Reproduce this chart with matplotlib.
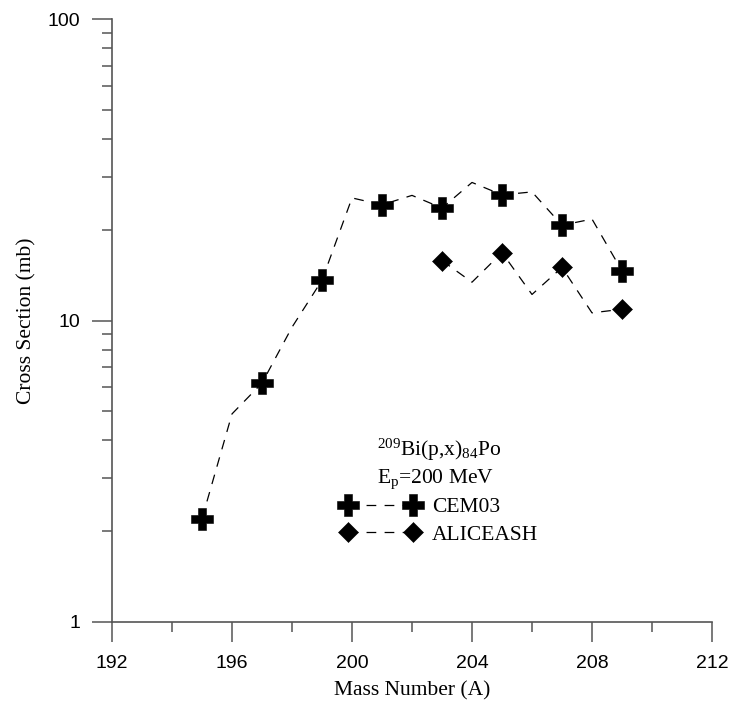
import matplotlib
matplotlib.use("Agg")
import matplotlib.pyplot as plt
from matplotlib.lines import Line2D
from matplotlib.ticker import FixedLocator, LogLocator, NullFormatter, FuncFormatter

plt.rcParams["mathtext.fontset"] = "custom"
plt.rcParams["mathtext.rm"] = "Liberation Serif"
plt.rcParams["mathtext.it"] = "Liberation Serif"
plt.rcParams["lines.scale_dashes"] = False

# 209Bi(p,x)84Po cross sections at Ep = 200 MeV
cem_A = [195, 196, 197, 198, 199, 200, 201, 202, 203, 204, 205, 206, 207, 208, 209]
cem_xs = [2.2, 4.9, 6.2, 9.5, 13.6, 25.5, 24.2, 26.0, 23.6, 28.7, 26.1, 26.7, 20.7, 21.7, 14.6]

alice_A = [203, 204, 205, 206, 207, 208, 209]
alice_xs = [15.8, 13.4, 16.8, 12.2, 15.0, 10.6, 10.9]

x_ticks = [192, 196, 200, 204, 208, 212]
y_ticks = [1, 10, 100]

serif = "Liberation Serif"
sans = "Liberation Sans"
dash = (0, (7, 6))
plus_style = dict(marker="P", ms=15.5, mew=0.4)
diamond_style = dict(marker="D", ms=10.5, mew=0.4)

fig = plt.figure(figsize=(7.31, 7.04), dpi=100)
ax = fig.add_axes([112 / 731, 1 - 622 / 704, 600 / 731, 603 / 704])

# markers only on odd mass numbers, dashed line through every point
ax.plot(cem_A, cem_xs, color="black", lw=0.9, linestyle=dash,
        markevery=slice(0, None, 2), **plus_style)
ax.plot(alice_A, alice_xs, color="black", lw=0.9, linestyle=dash,
        markevery=slice(0, None, 2), **diamond_style)

ax.set_yscale("log")
ax.set_xlim(192, 212)
ax.set_ylim(1, 100)

ax.xaxis.set_major_locator(FixedLocator(x_ticks))
ax.xaxis.set_minor_locator(FixedLocator(range(194, 212, 4)))
ax.yaxis.set_major_locator(FixedLocator(y_ticks))
ax.yaxis.set_minor_locator(LogLocator(base=10, subs=range(2, 10)))
ax.yaxis.set_minor_formatter(NullFormatter())
ax.yaxis.set_major_formatter(FuncFormatter(lambda v, p: f"{v:g}"))

for side in ["top", "right"]:
    ax.spines[side].set_visible(False)
for side in ["left", "bottom"]:
    ax.spines[side].set_color("#555555")
    ax.spines[side].set_linewidth(1.2)

ax.tick_params(which="major", direction="out", length=14.4, width=1.1, color="#555555")
ax.tick_params(which="minor", direction="out", length=7.2, width=1.1, color="#555555")
ax.tick_params(axis="y", which="major", pad=8.5)
ax.tick_params(axis="x", which="major", pad=9)
for lab in ax.get_xticklabels() + ax.get_yticklabels():
    lab.set_fontfamily(sans)
    lab.set_fontsize(14)

ax.set_xlabel("Mass Number (A)", fontfamily=serif, fontsize=15.5, labelpad=7)
ax.set_ylabel("Cross Section (mb)", fontfamily=serif, fontsize=15.5, labelpad=8)

fig.text(377 / 731, 1 - 456 / 704, r"$^{209}$Bi(p,x)$_{84}$Po",
         fontfamily=serif, fontsize=15.5, ha="left", va="baseline")
fig.text(377 / 731, 1 - 483 / 704, r"E$_{\rm p}$=200 MeV",
         fontfamily=serif, fontsize=15.5, ha="left", va="baseline")

handles = [
    Line2D([], [], color="black", lw=0.9, linestyle=dash, **plus_style),
    Line2D([], [], color="black", lw=0.9, linestyle=dash, **diamond_style),
]
fig.legend(handles, ["CEM03", "ALICEASH"], loc="center left",
           bbox_to_anchor=(341.5 / 731, 1 - 521 / 704), frameon=False,
           numpoints=2, handlelength=3.6, handletextpad=0.6,
           labelspacing=0.35, borderpad=0, borderaxespad=0,
           prop={"family": serif, "size": 15.5})

fig.savefig("out.png", dpi=100)
